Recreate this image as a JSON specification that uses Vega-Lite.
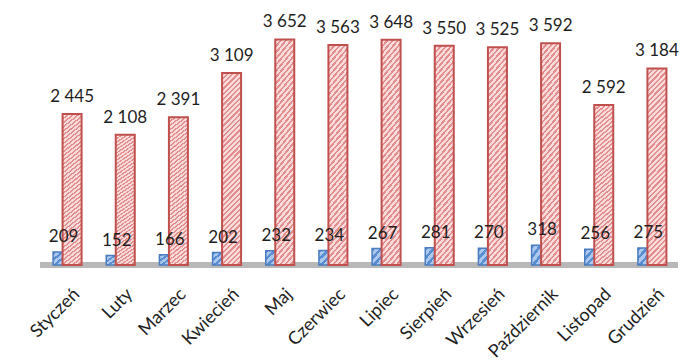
{
  "$schema": "https://vega.github.io/schema/vega-lite/v6.json",
  "width": 638,
  "height": 247,
  "autosize": "none",
  "padding": {"left": 40, "top": 18, "right": 18, "bottom": 98},
  "config": {
    "view": {"stroke": null},
    "text": {"font": "Lato", "fontSize": 17, "fill": "#1e1e1e"}
  },
  "data": {
    "values": [
      {"miesiac": "Styczeń", "male": 209, "duze": 2445},
      {"miesiac": "Luty", "male": 152, "duze": 2108},
      {"miesiac": "Marzec", "male": 166, "duze": 2391},
      {"miesiac": "Kwiecień", "male": 202, "duze": 3109},
      {"miesiac": "Maj", "male": 232, "duze": 3652},
      {"miesiac": "Czerwiec", "male": 234, "duze": 3563},
      {"miesiac": "Lipiec", "male": 267, "duze": 3648},
      {"miesiac": "Sierpień", "male": 281, "duze": 3550},
      {"miesiac": "Wrzesień", "male": 270, "duze": 3525},
      {"miesiac": "Październik", "male": 318, "duze": 3592},
      {"miesiac": "Listopad", "male": 256, "duze": 2592},
      {"miesiac": "Grudzień", "male": 275, "duze": 3184}
    ]
  },
  "transform": [
    {"calculate": "replace(format(datum.duze, ',d'), ',', ' ')", "as": "duze_txt"},
    {"calculate": "format(datum.male, 'd')", "as": "male_txt"}
  ],
  "layer": [
    {
      "mark": {"type": "rule", "stroke": "#b8b8b8", "strokeWidth": 5},
      "encoding": {"y": {"datum": 0, "type": "quantitative", "scale": {"domain": [0, 4000]}, "axis": null}}
    },
    {
      "mark": {
        "type": "bar", "width": 15, "xOffset": -6, "stroke": "#4a7cbf", "strokeWidth": 1.5,
        "fill": {
          "gradient": "linear", "x1": 0, "y1": 0, "x2": 1, "y2": 1,
          "stops": [
            {"offset": 0, "color": "#5a8ed2"}, {"offset": 0.11, "color": "#5a8ed2"}, {"offset": 0.11, "color": "#acc8ec"}, {"offset": 0.25, "color": "#acc8ec"},
            {"offset": 0.25, "color": "#5a8ed2"}, {"offset": 0.36, "color": "#5a8ed2"}, {"offset": 0.36, "color": "#acc8ec"}, {"offset": 0.5, "color": "#acc8ec"},
            {"offset": 0.5, "color": "#5a8ed2"}, {"offset": 0.61, "color": "#5a8ed2"}, {"offset": 0.61, "color": "#acc8ec"}, {"offset": 0.75, "color": "#acc8ec"},
            {"offset": 0.75, "color": "#5a8ed2"}, {"offset": 0.86, "color": "#5a8ed2"}, {"offset": 0.86, "color": "#acc8ec"}, {"offset": 1, "color": "#acc8ec"}
          ]
        }
      },
      "encoding": {
        "x": {
          "field": "miesiac",
          "type": "nominal",
          "sort": null,
          "scale": {"paddingInner": 0, "paddingOuter": 0},
          "axis": {
            "title": null,
            "domain": false,
            "ticks": false,
            "labelAngle": -45,
            "labelFont": "Lato",
            "labelFontSize": 18,
            "labelColor": "#1e1e1e",
            "labelPadding": 20,
            "labelOffset": 4
          }
        },
        "y": {"field": "male", "type": "quantitative"}
      }
    },
    {
      "mark": {
        "type": "bar", "width": 19, "xOffset": 5.5, "stroke": "#c0504d", "strokeWidth": 2,
        "fill": {
          "gradient": "linear", "x1": 0, "y1": 0, "x2": 0.1089, "y2": 1.089,
          "stops": [
            {"offset": 0, "color": "#e48f8f"}, {"offset": 0.011, "color": "#e48f8f"}, {"offset": 0.011, "color": "#fbdcdc"}, {"offset": 0.025, "color": "#fbdcdc"},
            {"offset": 0.025, "color": "#e48f8f"}, {"offset": 0.036, "color": "#e48f8f"}, {"offset": 0.036, "color": "#fbdcdc"}, {"offset": 0.05, "color": "#fbdcdc"},
            {"offset": 0.05, "color": "#e48f8f"}, {"offset": 0.061, "color": "#e48f8f"}, {"offset": 0.061, "color": "#fbdcdc"}, {"offset": 0.075, "color": "#fbdcdc"},
            {"offset": 0.075, "color": "#e48f8f"}, {"offset": 0.086, "color": "#e48f8f"}, {"offset": 0.086, "color": "#fbdcdc"}, {"offset": 0.1, "color": "#fbdcdc"},
            {"offset": 0.1, "color": "#e48f8f"}, {"offset": 0.111, "color": "#e48f8f"}, {"offset": 0.111, "color": "#fbdcdc"}, {"offset": 0.125, "color": "#fbdcdc"},
            {"offset": 0.125, "color": "#e48f8f"}, {"offset": 0.136, "color": "#e48f8f"}, {"offset": 0.136, "color": "#fbdcdc"}, {"offset": 0.15, "color": "#fbdcdc"},
            {"offset": 0.15, "color": "#e48f8f"}, {"offset": 0.161, "color": "#e48f8f"}, {"offset": 0.161, "color": "#fbdcdc"}, {"offset": 0.175, "color": "#fbdcdc"},
            {"offset": 0.175, "color": "#e48f8f"}, {"offset": 0.186, "color": "#e48f8f"}, {"offset": 0.186, "color": "#fbdcdc"}, {"offset": 0.2, "color": "#fbdcdc"},
            {"offset": 0.2, "color": "#e48f8f"}, {"offset": 0.211, "color": "#e48f8f"}, {"offset": 0.211, "color": "#fbdcdc"}, {"offset": 0.225, "color": "#fbdcdc"},
            {"offset": 0.225, "color": "#e48f8f"}, {"offset": 0.236, "color": "#e48f8f"}, {"offset": 0.236, "color": "#fbdcdc"}, {"offset": 0.25, "color": "#fbdcdc"},
            {"offset": 0.25, "color": "#e48f8f"}, {"offset": 0.261, "color": "#e48f8f"}, {"offset": 0.261, "color": "#fbdcdc"}, {"offset": 0.275, "color": "#fbdcdc"},
            {"offset": 0.275, "color": "#e48f8f"}, {"offset": 0.286, "color": "#e48f8f"}, {"offset": 0.286, "color": "#fbdcdc"}, {"offset": 0.3, "color": "#fbdcdc"},
            {"offset": 0.3, "color": "#e48f8f"}, {"offset": 0.311, "color": "#e48f8f"}, {"offset": 0.311, "color": "#fbdcdc"}, {"offset": 0.325, "color": "#fbdcdc"},
            {"offset": 0.325, "color": "#e48f8f"}, {"offset": 0.336, "color": "#e48f8f"}, {"offset": 0.336, "color": "#fbdcdc"}, {"offset": 0.35, "color": "#fbdcdc"},
            {"offset": 0.35, "color": "#e48f8f"}, {"offset": 0.361, "color": "#e48f8f"}, {"offset": 0.361, "color": "#fbdcdc"}, {"offset": 0.375, "color": "#fbdcdc"},
            {"offset": 0.375, "color": "#e48f8f"}, {"offset": 0.386, "color": "#e48f8f"}, {"offset": 0.386, "color": "#fbdcdc"}, {"offset": 0.4, "color": "#fbdcdc"},
            {"offset": 0.4, "color": "#e48f8f"}, {"offset": 0.411, "color": "#e48f8f"}, {"offset": 0.411, "color": "#fbdcdc"}, {"offset": 0.425, "color": "#fbdcdc"},
            {"offset": 0.425, "color": "#e48f8f"}, {"offset": 0.436, "color": "#e48f8f"}, {"offset": 0.436, "color": "#fbdcdc"}, {"offset": 0.45, "color": "#fbdcdc"},
            {"offset": 0.45, "color": "#e48f8f"}, {"offset": 0.461, "color": "#e48f8f"}, {"offset": 0.461, "color": "#fbdcdc"}, {"offset": 0.475, "color": "#fbdcdc"},
            {"offset": 0.475, "color": "#e48f8f"}, {"offset": 0.486, "color": "#e48f8f"}, {"offset": 0.486, "color": "#fbdcdc"}, {"offset": 0.5, "color": "#fbdcdc"},
            {"offset": 0.5, "color": "#e48f8f"}, {"offset": 0.511, "color": "#e48f8f"}, {"offset": 0.511, "color": "#fbdcdc"}, {"offset": 0.525, "color": "#fbdcdc"},
            {"offset": 0.525, "color": "#e48f8f"}, {"offset": 0.536, "color": "#e48f8f"}, {"offset": 0.536, "color": "#fbdcdc"}, {"offset": 0.55, "color": "#fbdcdc"},
            {"offset": 0.55, "color": "#e48f8f"}, {"offset": 0.561, "color": "#e48f8f"}, {"offset": 0.561, "color": "#fbdcdc"}, {"offset": 0.575, "color": "#fbdcdc"},
            {"offset": 0.575, "color": "#e48f8f"}, {"offset": 0.586, "color": "#e48f8f"}, {"offset": 0.586, "color": "#fbdcdc"}, {"offset": 0.6, "color": "#fbdcdc"},
            {"offset": 0.6, "color": "#e48f8f"}, {"offset": 0.611, "color": "#e48f8f"}, {"offset": 0.611, "color": "#fbdcdc"}, {"offset": 0.625, "color": "#fbdcdc"},
            {"offset": 0.625, "color": "#e48f8f"}, {"offset": 0.636, "color": "#e48f8f"}, {"offset": 0.636, "color": "#fbdcdc"}, {"offset": 0.65, "color": "#fbdcdc"},
            {"offset": 0.65, "color": "#e48f8f"}, {"offset": 0.661, "color": "#e48f8f"}, {"offset": 0.661, "color": "#fbdcdc"}, {"offset": 0.675, "color": "#fbdcdc"},
            {"offset": 0.675, "color": "#e48f8f"}, {"offset": 0.686, "color": "#e48f8f"}, {"offset": 0.686, "color": "#fbdcdc"}, {"offset": 0.7, "color": "#fbdcdc"},
            {"offset": 0.7, "color": "#e48f8f"}, {"offset": 0.711, "color": "#e48f8f"}, {"offset": 0.711, "color": "#fbdcdc"}, {"offset": 0.725, "color": "#fbdcdc"},
            {"offset": 0.725, "color": "#e48f8f"}, {"offset": 0.736, "color": "#e48f8f"}, {"offset": 0.736, "color": "#fbdcdc"}, {"offset": 0.75, "color": "#fbdcdc"},
            {"offset": 0.75, "color": "#e48f8f"}, {"offset": 0.761, "color": "#e48f8f"}, {"offset": 0.761, "color": "#fbdcdc"}, {"offset": 0.775, "color": "#fbdcdc"},
            {"offset": 0.775, "color": "#e48f8f"}, {"offset": 0.786, "color": "#e48f8f"}, {"offset": 0.786, "color": "#fbdcdc"}, {"offset": 0.8, "color": "#fbdcdc"},
            {"offset": 0.8, "color": "#e48f8f"}, {"offset": 0.811, "color": "#e48f8f"}, {"offset": 0.811, "color": "#fbdcdc"}, {"offset": 0.825, "color": "#fbdcdc"},
            {"offset": 0.825, "color": "#e48f8f"}, {"offset": 0.836, "color": "#e48f8f"}, {"offset": 0.836, "color": "#fbdcdc"}, {"offset": 0.85, "color": "#fbdcdc"},
            {"offset": 0.85, "color": "#e48f8f"}, {"offset": 0.861, "color": "#e48f8f"}, {"offset": 0.861, "color": "#fbdcdc"}, {"offset": 0.875, "color": "#fbdcdc"},
            {"offset": 0.875, "color": "#e48f8f"}, {"offset": 0.886, "color": "#e48f8f"}, {"offset": 0.886, "color": "#fbdcdc"}, {"offset": 0.9, "color": "#fbdcdc"},
            {"offset": 0.9, "color": "#e48f8f"}, {"offset": 0.911, "color": "#e48f8f"}, {"offset": 0.911, "color": "#fbdcdc"}, {"offset": 0.925, "color": "#fbdcdc"},
            {"offset": 0.925, "color": "#e48f8f"}, {"offset": 0.936, "color": "#e48f8f"}, {"offset": 0.936, "color": "#fbdcdc"}, {"offset": 0.95, "color": "#fbdcdc"},
            {"offset": 0.95, "color": "#e48f8f"}, {"offset": 0.961, "color": "#e48f8f"}, {"offset": 0.961, "color": "#fbdcdc"}, {"offset": 0.975, "color": "#fbdcdc"},
            {"offset": 0.975, "color": "#e48f8f"}, {"offset": 0.986, "color": "#e48f8f"}, {"offset": 0.986, "color": "#fbdcdc"}, {"offset": 1, "color": "#fbdcdc"}
          ]
        }
      },
      "encoding": {
        "x": {"field": "miesiac", "type": "nominal", "sort": null},
        "y": {"field": "duze", "type": "quantitative"}
      }
    },
    {
      "mark": {"type": "text", "baseline": "alphabetic", "dy": -12, "xOffset": 5.5},
      "encoding": {
        "x": {"field": "miesiac", "type": "nominal", "sort": null},
        "y": {"field": "duze", "type": "quantitative"},
        "text": {"field": "duze_txt", "type": "nominal"}
      }
    },
    {
      "mark": {"type": "text", "baseline": "alphabetic", "dy": -10, "xOffset": -3},
      "encoding": {
        "x": {"field": "miesiac", "type": "nominal", "sort": null},
        "y": {"field": "male", "type": "quantitative"},
        "text": {"field": "male_txt", "type": "nominal"}
      }
    }
  ]
}
